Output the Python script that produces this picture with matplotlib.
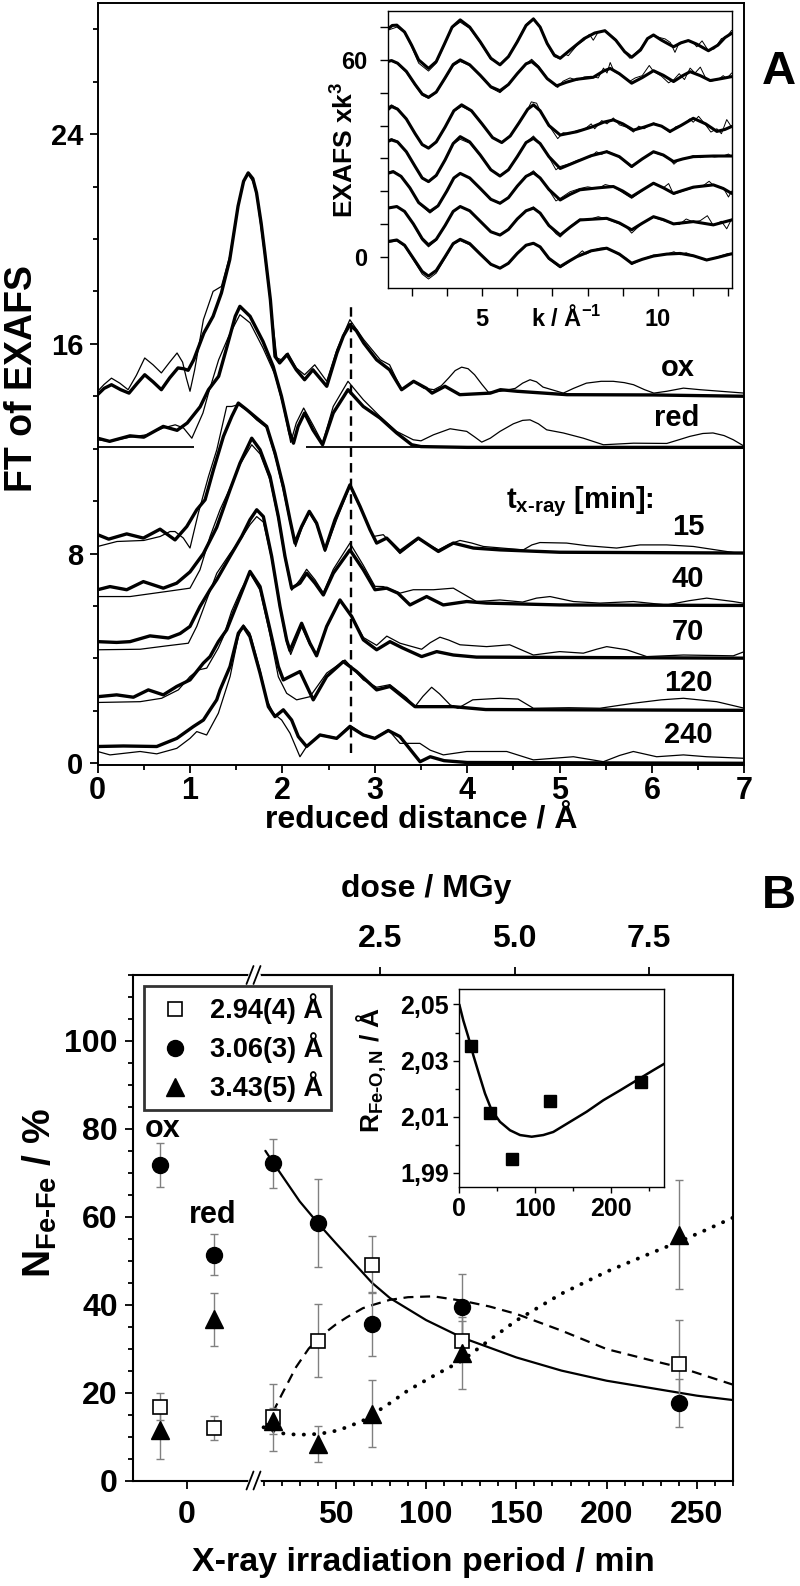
import numpy as np
import matplotlib
matplotlib.use("Agg")
import matplotlib.pyplot as plt
from matplotlib.lines import Line2D
from matplotlib.ticker import MultipleLocator, FixedLocator, FixedFormatter, NullLocator

plt.rcParams['font.family'] = ['Liberation Sans', 'DejaVu Sans']
plt.rcParams['font.weight'] = 'bold'
plt.rcParams['mathtext.fontset'] = 'custom'
plt.rcParams['mathtext.rm'] = 'Liberation Sans:bold'
plt.rcParams['mathtext.it'] = 'Liberation Sans:bold'
plt.rcParams['mathtext.bf'] = 'Liberation Sans:bold'
plt.rcParams['mathtext.sf'] = 'Liberation Sans:bold'
plt.rcParams['mathtext.default'] = 'rm'
plt.rcParams['lines.solid_joinstyle'] = 'round'
plt.rcParams['lines.solid_capstyle'] = 'round'

# ======================= DATA =======================
# Panel A: FT of EXAFS, (reduced distance / A, offset amplitude); thick = simulation, thin = experiment
ox_sim = [[0, 14.06], [0.07, 14.3], [0.15, 14.44], [0.25, 14.25], [0.34, 14.12], [0.43, 14.5], [0.51, 14.82],
          [0.6, 14.55], [0.69, 14.25], [0.78, 14.7], [0.87, 15.08], [0.93, 15.05], [0.98, 14.99],
          [1.04, 15.39], [1.15, 16.41], [1.25, 17.05], [1.34, 17.94], [1.43, 19.21], [1.52, 21.25], [1.58, 22.2],
          [1.63, 22.52], [1.68, 22.3], [1.72, 21.76], [1.77, 20.6], [1.81, 19.47], [1.87, 17.68], [1.92, 15.52],
          [1.97, 15.27], [2.05, 15.59], [2.15, 15.01], [2.24, 14.63], [2.33, 15.01], [2.48, 14.38], [2.59, 15.65],
          [2.66, 16.3], [2.73, 16.73], [2.8, 16.5], [2.88, 16.03], [3.02, 15.39], [3.16, 15.01], [3.29, 14.25],
          [3.42, 14.57], [3.56, 14.3], [3.62, 14.12], [3.76, 14.38], [3.92, 14.06], [4.25, 14.12], [4.36, 14.25],
          [4.54, 14.19], [5.08, 14.06], [6.0, 14.05], [7.0, 14.0]]
ox_exp = [[0, 14.19], [0.07, 14.45], [0.15, 14.69], [0.24, 14.5], [0.33, 14.25], [0.42, 14.8], [0.51, 15.46],
          [0.6, 15.2], [0.69, 14.89], [0.78, 15.3], [0.86, 15.65], [0.92, 15.3], [0.96, 14.7], [1.0, 14.19],
          [1.05, 15.0], [1.145, 16.92], [1.25, 18.0], [1.34, 18.19], [1.43, 19.34], [1.52, 21.25],
          [1.58, 22.2], [1.63, 22.46], [1.68, 22.2], [1.72, 21.7], [1.81, 19.34], [1.88, 17.3], [1.94, 15.46],
          [1.99, 15.39], [2.06, 15.65], [2.15, 15.08], [2.24, 14.82], [2.35, 15.2], [2.48, 14.57], [2.59, 15.78],
          [2.73, 16.92], [2.88, 16.16], [3.06, 15.39], [3.16, 15.2], [3.29, 14.25], [3.42, 14.57], [3.53, 14.31],
          [3.64, 14.25], [3.72, 14.4], [3.8, 14.7], [3.87, 14.98], [3.94, 15.11], [4.01, 15.05], [4.08, 14.82],
          [4.16, 14.45], [4.23, 14.15], [4.36, 14.19], [4.52, 14.3], [4.6, 14.5], [4.68, 14.63], [4.75, 14.55],
          [4.82, 14.35], [5.04, 14.12], [5.15, 14.3], [5.29, 14.5], [5.45, 14.57], [5.58, 14.57], [5.7, 14.52],
          [5.8, 14.44], [5.92, 14.25], [6.02, 14.12], [6.16, 14.19], [6.34, 14.31], [6.52, 14.25], [7.0, 14.12]]
red_sim = [[0, 12.4], [0.13, 12.28], [0.35, 12.49], [0.5, 12.44], [0.71, 12.85], [0.86, 12.7], [0.97, 12.98],
           [1.11, 13.6], [1.2, 14.25], [1.31, 14.76], [1.4, 15.89], [1.49, 17.05], [1.54, 17.43], [1.65, 17.05],
           [1.79, 16.09], [1.9, 15.14], [1.99, 14.0], [2.08, 12.6], [2.12, 12.21], [2.17, 12.85], [2.24, 13.36],
           [2.33, 12.72], [2.435, 12.15], [2.55, 13.36], [2.71, 14.25], [2.875, 13.61], [3.056, 13.17],
           [3.236, 12.6], [3.4, 12.15], [3.5, 12.08], [4.0, 12.05], [7.0, 12.05]]
red_exp = [[0, 12.34], [0.13, 12.28], [0.35, 12.44], [0.53, 12.53], [0.71, 12.79], [0.84, 12.91], [0.93, 12.79],
           [1.02, 12.4], [1.14, 13.36], [1.2, 14.12], [1.31, 15.39], [1.42, 16.3], [1.54, 17.11], [1.65, 16.8],
           [1.79, 15.84], [1.92, 14.82], [2.01, 13.61], [2.09, 12.24], [2.15, 12.98], [2.23, 13.55], [2.33, 12.91],
           [2.435, 12.21], [2.55, 13.61], [2.71, 14.57], [2.875, 13.87], [3.056, 13.23], [3.236, 12.66],
           [3.416, 12.34], [3.5, 12.3], [3.635, 12.53], [3.815, 12.76], [3.995, 12.66], [4.08, 12.45],
           [4.157, 12.25], [4.25, 12.4], [4.355, 12.66], [4.5, 12.95], [4.6, 13.08], [4.68, 13.1], [4.77, 12.95],
           [4.86, 12.72], [5.04, 12.6], [5.257, 12.4], [5.474, 12.15], [5.8, 12.21], [6.16, 12.2], [6.3, 12.35],
           [6.41, 12.47], [6.55, 12.58], [6.66, 12.6], [6.78, 12.5], [6.88, 12.34], [7.0, 12.09]]
t15_sim = [[0, 8.72], [0.12, 8.55], [0.315, 8.75], [0.495, 8.59], [0.676, 8.93], [0.838, 8.52], [0.965, 9.03],
           [1.073, 9.67], [1.163, 10.05], [1.254, 11.2], [1.362, 12.47], [1.452, 13.23], [1.523, 13.74],
           [1.613, 13.49], [1.721, 13.17], [1.83, 12.85], [1.92, 11.83], [2.01, 10.56], [2.082, 9.29], [2.136, 8.4],
           [2.208, 9.03], [2.291, 9.61], [2.37, 9.16], [2.461, 8.14], [2.569, 9.29], [2.731, 10.62], [2.84, 9.8],
           [2.948, 8.91], [3.02, 8.4], [3.128, 8.59], [3.272, 8.08], [3.471, 8.59], [3.688, 8.08], [3.85, 8.4],
           [4.067, 8.21], [4.355, 8.14], [5.0, 8.05], [7.0, 8.02]]
t15_exp = [[0, 8.27], [0.21, 8.46], [0.5, 8.5], [0.676, 8.65], [0.784, 8.84], [0.838, 8.84], [0.928, 8.59],
           [1.0, 8.21], [1.09, 9.54], [1.2, 10.94], [1.29, 11.96], [1.397, 13.61], [1.452, 13.61], [1.523, 13.68],
           [1.62, 13.45], [1.72, 13.1], [1.83, 12.8], [1.931, 11.58], [2.01, 10.4], [2.082, 9.2], [2.143, 8.27],
           [2.208, 8.95], [2.291, 9.55], [2.37, 9.1], [2.461, 8.08], [2.587, 9.29], [2.731, 10.56], [2.84, 9.75],
           [2.984, 8.65], [3.092, 8.72], [3.272, 8.0], [3.471, 8.55], [3.688, 8.14], [3.8, 8.35], [3.922, 8.5],
           [4.05, 8.4], [4.175, 8.27], [4.607, 8.14], [4.7, 8.33], [4.787, 8.42], [5.076, 8.4], [5.293, 8.3],
           [5.617, 8.21], [5.87, 8.33], [6.159, 8.33], [6.448, 8.27], [6.88, 8.04], [7.0, 8.0]]
t40_sim = [[0, 6.62], [0.134, 6.74], [0.315, 6.62], [0.495, 6.93], [0.711, 6.68], [0.856, 6.87], [1.0, 7.3],
           [1.145, 8.0], [1.289, 9.0], [1.433, 10.43], [1.541, 11.45], [1.668, 12.4], [1.758, 11.96],
           [1.866, 10.94], [1.956, 9.41], [2.028, 7.89], [2.1, 6.68], [2.19, 6.87], [2.262, 7.25], [2.353, 6.87],
           [2.443, 6.42], [2.551, 7.25], [2.731, 8.14], [2.876, 7.38], [3.002, 6.62], [3.128, 6.68], [3.25, 6.49],
           [3.381, 6.04], [3.561, 6.36], [3.741, 6.04], [3.995, 6.17], [4.21, 6.11], [5.0, 6.04], [7.0, 6.02]]
t40_exp = [[0, 6.36], [0.351, 6.36], [0.74, 6.55], [1.0, 6.68], [1.108, 7.38], [1.217, 8.65], [1.325, 9.67],
           [1.433, 10.5], [1.541, 11.4], [1.668, 12.15], [1.758, 11.8], [1.866, 10.8], [1.956, 9.3], [2.028, 7.8],
           [2.1, 6.6], [2.19, 7.0], [2.262, 7.4], [2.353, 7.0], [2.443, 6.5], [2.551, 7.4], [2.731, 8.4],
           [2.876, 7.55], [3.002, 6.75], [3.092, 6.74], [3.273, 6.49], [3.416, 6.62], [3.635, 6.62], [3.85, 6.68],
           [4.1, 6.17], [4.355, 6.23], [4.6, 6.15], [4.75, 6.3], [4.896, 6.36], [5.149, 6.17], [5.437, 6.11],
           [5.798, 6.17], [6.159, 6.04], [6.4, 6.2], [6.592, 6.3], [6.88, 6.17], [7.0, 6.1]]
t70_sim = [[0, 4.64], [0.206, 4.61], [0.351, 4.64], [0.567, 4.86], [0.766, 4.78], [0.893, 4.95], [1.0, 5.22],
           [1.108, 5.98], [1.217, 6.62], [1.289, 7.0], [1.433, 7.89], [1.559, 8.65], [1.649, 9.29], [1.722, 9.67],
           [1.794, 9.41], [1.884, 7.89], [1.974, 5.98], [2.046, 4.71], [2.082, 4.3], [2.208, 5.34], [2.298, 4.58],
           [2.37, 4.1], [2.479, 5.22], [2.623, 6.23], [2.75, 5.6], [2.876, 4.71], [3.02, 4.33], [3.164, 4.64],
           [3.3, 4.4], [3.507, 4.07], [3.67, 4.26], [3.85, 4.13], [4.1, 4.05], [7.0, 4.01]]
t70_exp = [[0, 4.33], [0.46, 4.35], [0.748, 4.48], [0.982, 4.58], [1.073, 5.22], [1.18, 6.23], [1.29, 7.25],
           [1.433, 8.0], [1.559, 8.6], [1.649, 9.1], [1.722, 9.41], [1.794, 9.2], [1.884, 7.8], [1.974, 5.9],
           [2.046, 4.6], [2.09, 4.15], [2.208, 5.2], [2.298, 4.5], [2.37, 4.2], [2.479, 5.2], [2.623, 6.2],
           [2.75, 5.6], [2.876, 4.8], [3.02, 4.5], [3.13, 4.85], [3.273, 4.58], [3.507, 4.35], [3.6, 4.6],
           [3.705, 4.81], [3.8, 4.7], [3.922, 4.52], [4.21, 4.45], [4.46, 4.52], [4.716, 4.13], [5.0, 4.26],
           [5.257, 4.2], [5.4, 4.35], [5.51, 4.45], [5.726, 4.33], [5.943, 4.07], [6.34, 4.13], [6.88, 4.1],
           [7.0, 4.26]]
t120_sim = [[0, 2.54], [0.206, 2.61], [0.387, 2.52], [0.549, 2.8], [0.711, 2.61], [0.856, 2.93], [1.0, 3.18],
            [1.144, 3.82], [1.217, 4.07], [1.307, 4.64], [1.397, 5.09], [1.541, 6.36], [1.649, 7.32],
            [1.758, 6.74], [1.866, 5.09], [1.956, 3.69], [2.01, 3.18], [2.082, 3.31], [2.19, 3.5], [2.334, 2.42],
            [2.479, 3.31], [2.659, 3.88], [2.803, 3.5], [3.02, 2.8], [3.164, 2.93], [3.344, 2.42], [3.435, 2.16],
            [3.85, 2.16], [4.2, 2.05], [7.0, 2.02]]
t120_exp = [[0, 2.32], [0.46, 2.35], [0.693, 2.48], [0.874, 2.8], [1.0, 3.31], [1.09, 3.56], [1.181, 3.63],
            [1.307, 4.4], [1.361, 4.83], [1.45, 5.8], [1.55, 6.6], [1.649, 7.25], [1.758, 6.6], [1.866, 4.9],
            [1.956, 3.3], [2.046, 2.67], [2.154, 2.42], [2.298, 2.54], [2.479, 3.44], [2.677, 3.94], [2.876, 3.18],
            [3.02, 2.9], [3.164, 3.0], [3.344, 2.5], [3.435, 2.16], [3.52, 2.55], [3.615, 2.9], [3.7, 2.65],
            [3.815, 2.23], [3.9, 2.1], [4.06, 2.42], [4.355, 2.48], [4.55, 2.45], [4.716, 2.1], [5.1, 2.12],
            [5.437, 2.1], [5.798, 2.29], [6.1, 2.42], [6.34, 2.48], [6.7, 2.35], [7.0, 2.1]]
t240_sim = [[0, 0.64], [0.279, 0.66], [0.64, 0.64], [0.857, 0.95], [1.036, 1.4], [1.145, 1.65], [1.217, 2.04],
            [1.289, 2.42], [1.325, 2.8], [1.433, 3.69], [1.523, 4.96], [1.577, 5.22], [1.649, 4.83],
            [1.758, 3.44], [1.848, 2.16], [1.92, 1.78], [2.01, 2.04], [2.1, 1.65], [2.172, 1.02], [2.262, 0.64],
            [2.407, 1.08], [2.587, 0.95], [2.731, 1.4], [2.876, 1.08], [3.0, 0.95], [3.146, 1.25], [3.272, 1.02],
            [3.417, 0.38], [3.49, 0.06], [3.6, 0.25], [3.75, 0.1], [4.0, 0.03], [7.0, 0.0]]
t240_exp = [[0, 0.45], [0.134, 0.32], [0.46, 0.45], [0.64, 0.36], [0.857, 0.57], [1.0, 0.95], [1.073, 1.21],
            [1.18, 1.08], [1.307, 1.91], [1.434, 3.31], [1.523, 4.83], [1.577, 5.28], [1.649, 4.96],
            [1.758, 3.56], [1.83, 2.42], [1.902, 1.91], [1.992, 1.65], [2.082, 1.15], [2.19, 0.25], [2.262, 0.64],
            [2.407, 1.1], [2.587, 0.97], [2.731, 1.45], [2.876, 1.1], [3.0, 0.97], [3.146, 1.28], [3.273, 0.76],
            [3.488, 0.76], [3.6, 0.5], [3.742, 0.32], [3.995, 0.45], [4.428, 0.45], [4.716, 0.13], [5.149, 0.25],
            [5.474, 0.06], [5.65, 0.3], [5.798, 0.45], [6.05, 0.25], [6.34, 0.32], [6.59, 0.25], [7.0, 0.19]]
ft_names = ['ox', 'red', '15', '40', '70', '120', '240']
red_baseline_level = 12.05
red_baseline_segments = [[0.0, 1.04], [2.26, 7.0]]
fefe_distance = 2.74
fefe_line_span = [0.4, 17.5]

# Inset A: k^3-weighted EXAFS (k / A^-1, offset value); thick = simulation, thin = experiment
ex_ox_sim = [[2.31, 69.3], [2.45, 70.5], [2.58, 70.6], [2.8, 68.5], [3.0, 64.5], [3.2, 60.0], [3.48, 57.4],
             [3.7, 59.5], [3.93, 64.8], [4.15, 70.0], [4.38, 72.2], [4.65, 70.0], [4.95, 65.5], [5.25, 60.5],
             [5.51, 58.5], [5.75, 61.0], [6.0, 65.5], [6.25, 70.5], [6.46, 72.5], [6.65, 70.0], [6.85, 65.0],
             [7.05, 61.5], [7.22, 60.5], [7.5, 63.0], [7.9, 66.5], [8.2, 68.2], [8.49, 68.9], [8.8, 66.0],
             [9.05, 62.5], [9.25, 60.8], [9.5, 63.0], [9.7, 66.5], [9.87, 67.6], [10.1, 66.0], [10.44, 64.0],
             [10.65, 65.2], [10.86, 65.9], [11.1, 64.8], [11.43, 62.8], [11.7, 64.5], [11.9, 66.8], [12.09, 68.1]]
ex_ox_exp = [[2.31, 69.0], [2.58, 70.0], [2.8, 68.3], [3.0, 64.0], [3.2, 59.0], [3.48, 56.6], [3.7, 59.0],
             [3.93, 64.5], [4.15, 69.8], [4.38, 71.5], [4.65, 69.6], [4.95, 65.2], [5.25, 60.2], [5.51, 58.7],
             [5.75, 61.2], [6.0, 65.8], [6.25, 70.8], [6.46, 72.7], [6.65, 70.2], [6.85, 64.8], [7.05, 61.0],
             [7.22, 60.3], [7.35, 61.8], [7.45, 61.3], [7.7, 64.5], [7.9, 66.0], [8.05, 67.8], [8.16, 66.0],
             [8.3, 68.5], [8.49, 69.0], [8.8, 66.2], [9.05, 62.3], [9.2, 60.5], [9.3, 61.5], [9.5, 63.5],
             [9.7, 66.5], [9.87, 67.4], [10.05, 66.8], [10.2, 66.4], [10.35, 65.3], [10.48, 62.3], [10.6, 65.2],
             [10.86, 66.0], [11.0, 65.2], [11.1, 64.0], [11.25, 65.8], [11.43, 62.8], [11.6, 63.4], [11.8, 66.5],
             [11.95, 67.0], [12.09, 69.0]]
ex_red_sim = [[2.31, 59.5], [2.43, 59.8], [2.6, 59.0], [2.85, 56.5], [3.1, 52.5], [3.3, 49.6], [3.48, 48.6],
              [3.7, 50.2], [3.95, 54.5], [4.18, 58.6], [4.38, 60.0], [4.65, 58.5], [4.95, 55.3], [5.25, 51.8],
              [5.51, 50.6], [5.75, 52.5], [6.0, 55.8], [6.25, 58.8], [6.41, 59.5], [6.6, 57.8], [6.85, 54.3],
              [7.12, 52.1], [7.4, 53.2], [7.69, 54.1], [8.16, 54.7], [8.45, 56.6], [8.64, 57.4], [8.9, 55.8],
              [9.25, 52.9], [9.55, 54.6], [9.87, 56.7], [10.15, 55.3], [10.44, 53.4], [10.7, 55.2], [10.91, 56.4],
              [11.2, 55.2], [11.48, 53.7], [11.8, 54.3], [12.09, 54.9]]
ex_red_exp = [[2.31, 59.3], [2.43, 59.6], [2.6, 58.8], [2.85, 56.2], [3.1, 52.2], [3.3, 49.2], [3.48, 48.3],
              [3.7, 50.0], [3.95, 54.2], [4.18, 58.2], [4.38, 59.5], [4.65, 58.3], [4.95, 55.3], [5.25, 51.5],
              [5.51, 50.0], [5.75, 52.3], [6.0, 55.8], [6.25, 58.8], [6.41, 60.2], [6.6, 58.2], [6.85, 54.5],
              [7.05, 52.5], [7.15, 51.6], [7.3, 53.5], [7.5, 54.5], [7.7, 53.8], [7.9, 54.8], [8.1, 55.0],
              [8.3, 54.5], [8.45, 57.5], [8.55, 56.0], [8.64, 59.2], [8.75, 56.5], [9.0, 55.0], [9.2, 53.5],
              [9.35, 54.5], [9.55, 55.2], [9.75, 58.3], [9.87, 56.5], [10.1, 55.0], [10.3, 53.0], [10.45, 54.0],
              [10.6, 55.8], [10.75, 54.0], [10.91, 57.5], [11.05, 56.0], [11.2, 57.8], [11.35, 54.5], [11.5, 53.5],
              [11.7, 54.0], [11.85, 55.2], [11.95, 54.3], [12.09, 56.0]]
ex_15_sim = [[2.31, 44.7], [2.43, 45.8], [2.6, 45.0], [2.85, 42.0], [3.1, 37.5], [3.3, 34.2], [3.48, 33.1],
             [3.7, 35.0], [3.95, 39.5], [4.2, 44.5], [4.42, 46.3], [4.7, 44.5], [5.0, 40.5], [5.3, 36.3],
             [5.56, 34.8], [5.8, 36.8], [6.05, 40.8], [6.3, 45.0], [6.46, 46.3], [6.65, 44.5], [6.9, 40.0],
             [7.22, 37.1], [7.69, 38.1], [8.16, 39.7], [8.45, 41.0], [8.73, 41.7], [9.0, 40.5], [9.3, 38.6],
             [9.6, 39.5], [9.87, 40.5], [10.1, 39.8], [10.34, 38.2], [10.65, 40.0], [11.0, 42.2], [11.35, 40.5],
             [11.67, 38.2], [11.9, 38.8], [12.09, 39.7]]
ex_15_exp = [[2.31, 45.5], [2.43, 46.3], [2.6, 45.2], [2.85, 42.0], [3.1, 37.3], [3.3, 34.0], [3.48, 33.0],
             [3.7, 34.8], [3.95, 39.3], [4.2, 44.3], [4.42, 45.8], [4.7, 44.3], [5.0, 40.3], [5.3, 36.3],
             [5.56, 35.0], [5.8, 36.8], [6.05, 40.8], [6.3, 45.0], [6.4, 47.2], [6.55, 46.8], [6.65, 44.5],
             [6.9, 40.0], [7.15, 36.0], [7.3, 37.8], [7.5, 37.5], [7.7, 38.5], [7.9, 38.8], [8.1, 40.5], [8.2, 39.0],
             [8.4, 41.5], [8.55, 40.5], [8.73, 42.3], [8.9, 40.2], [9.1, 39.5], [9.3, 38.0], [9.45, 39.8],
             [9.6, 39.0], [9.87, 40.8], [10.1, 39.8], [10.34, 37.8], [10.5, 39.6], [10.7, 40.2], [10.9, 42.0],
             [11.0, 41.0], [11.15, 42.8], [11.35, 40.2], [11.5, 38.0], [11.67, 39.0], [11.8, 37.5], [11.95, 41.8],
             [12.09, 39.5]]
ex_40_sim = [[2.31, 35.1], [2.43, 35.6], [2.6, 35.0], [2.85, 32.0], [3.1, 27.5], [3.3, 24.0], [3.48, 22.9],
             [3.7, 24.8], [3.95, 29.5], [4.18, 34.5], [4.38, 36.6], [4.65, 35.0], [4.95, 31.0], [5.25, 26.5],
             [5.51, 24.6], [5.75, 26.5], [6.0, 30.5], [6.25, 34.8], [6.46, 36.1], [6.65, 34.5], [6.9, 30.5],
             [7.22, 26.9], [7.69, 29.0], [8.1, 30.8], [8.54, 32.0], [8.9, 30.5], [9.25, 27.5], [9.55, 29.8],
             [9.87, 32.0], [10.15, 31.0], [10.44, 29.0], [10.7, 29.8], [11.0, 30.5], [11.57, 30.7], [12.09, 30.7]]
ex_40_exp = [[2.31, 35.5], [2.43, 36.0], [2.6, 35.2], [2.85, 32.0], [3.1, 27.3], [3.3, 23.8], [3.48, 22.7],
             [3.7, 24.6], [3.95, 29.3], [4.18, 34.3], [4.38, 35.8], [4.65, 34.6], [4.95, 30.8], [5.25, 26.4],
             [5.51, 24.8], [5.75, 26.6], [6.0, 30.5], [6.25, 34.8], [6.46, 36.8], [6.65, 34.5], [6.9, 30.3],
             [7.1, 26.5], [7.22, 27.5], [7.5, 28.4], [7.69, 29.3], [7.9, 30.0], [8.1, 30.5], [8.25, 32.0],
             [8.4, 31.2], [8.54, 32.3], [8.8, 31.0], [9.0, 29.5], [9.25, 27.2], [9.5, 29.5], [9.87, 31.8],
             [10.15, 30.8], [10.35, 29.5], [10.45, 28.2], [10.6, 29.6], [10.8, 30.0], [11.0, 30.8], [11.2, 30.2],
             [11.4, 30.8], [11.6, 30.4], [11.85, 30.7], [12.0, 31.3], [12.09, 30.5]]
ex_70_sim = [[2.31, 25.4], [2.48, 25.9], [2.7, 24.5], [2.95, 21.0], [3.2, 16.5], [3.52, 13.8], [3.75, 15.5],
             [4.0, 20.0], [4.2, 24.0], [4.38, 25.4], [4.65, 24.0], [4.95, 20.8], [5.25, 17.5], [5.51, 16.3],
             [5.75, 18.0], [6.0, 21.5], [6.25, 24.5], [6.46, 25.6], [6.65, 24.0], [6.9, 20.5], [7.22, 17.3],
             [7.5, 19.0], [7.78, 20.4], [8.3, 21.0], [8.73, 21.4], [9.0, 20.0], [9.25, 18.3], [9.55, 20.3],
             [9.87, 22.4], [10.15, 21.0], [10.44, 19.3], [10.7, 20.2], [11.0, 21.2], [11.57, 21.9], [11.85, 20.8],
             [12.09, 19.3]]
ex_70_exp = [[2.31, 25.8], [2.48, 26.2], [2.7, 24.6], [2.95, 21.0], [3.2, 16.3], [3.52, 13.3], [3.75, 15.3],
             [4.0, 19.9], [4.2, 23.8], [4.38, 25.4], [4.65, 24.0], [4.95, 20.8], [5.25, 17.4], [5.51, 16.1],
             [5.75, 18.0], [6.0, 21.5], [6.25, 24.5], [6.46, 26.2], [6.65, 24.0], [6.9, 20.3], [7.1, 17.0],
             [7.25, 18.0], [7.5, 19.8], [7.78, 20.8], [8.0, 21.3], [8.3, 20.8], [8.5, 22.0], [8.73, 21.4],
             [9.0, 19.5], [9.25, 17.8], [9.55, 20.1], [9.87, 22.6], [10.15, 21.0], [10.3, 22.3], [10.44, 19.0],
             [10.7, 20.0], [11.0, 21.0], [11.3, 21.8], [11.45, 23.0], [11.57, 21.8], [11.85, 21.0], [12.0, 18.2],
             [12.09, 20.0]]
ex_120_sim = [[2.31, 14.8], [2.58, 15.3], [2.8, 13.8], [3.05, 10.0], [3.3, 5.5], [3.48, 3.6], [3.7, 5.3],
              [3.95, 9.5], [4.18, 13.8], [4.38, 15.3], [4.65, 14.0], [4.95, 10.8], [5.25, 7.6], [5.51, 6.6],
              [5.75, 8.3], [6.0, 11.5], [6.25, 14.0], [6.46, 14.8], [6.65, 13.3], [6.9, 9.5], [7.22, 6.6],
              [7.5, 9.0], [7.78, 11.2], [8.54, 11.7], [8.9, 10.3], [9.25, 8.2], [9.55, 10.2], [9.87, 12.2],
              [10.15, 11.3], [10.44, 10.0], [11.0, 10.7], [11.57, 9.7], [12.09, 11.2]]
ex_120_exp = [[2.31, 14.9], [2.58, 15.4], [2.8, 13.8], [3.05, 9.8], [3.3, 5.0], [3.48, 3.0], [3.7, 5.0],
              [3.95, 9.3], [4.18, 13.7], [4.38, 15.2], [4.65, 14.0], [4.95, 10.8], [5.25, 7.5], [5.51, 6.5],
              [5.75, 8.3], [6.0, 11.5], [6.25, 14.0], [6.46, 15.2], [6.65, 13.3], [6.9, 9.5], [7.1, 7.0],
              [7.22, 6.0], [7.5, 9.2], [7.78, 11.5], [8.0, 11.2], [8.3, 12.2], [8.54, 11.5], [8.9, 10.0],
              [9.1, 9.0], [9.25, 7.2], [9.55, 10.2], [9.87, 12.0], [10.15, 11.0], [10.44, 10.0], [10.6, 9.8],
              [10.8, 11.5], [11.0, 10.6], [11.2, 11.0], [11.4, 12.5], [11.57, 9.5], [11.8, 10.8], [11.95, 8.5],
              [12.09, 11.5]]
ex_240_sim = [[2.31, 4.6], [2.58, 5.1], [2.8, 3.5], [3.05, -0.5], [3.3, -4.5], [3.48, -5.9], [3.7, -4.2],
              [3.95, 0.0], [4.18, 4.0], [4.38, 5.3], [4.65, 4.0], [4.95, 0.8], [5.25, -2.3], [5.51, -3.5],
              [5.75, -2.0], [6.0, 1.0], [6.25, 3.5], [6.46, 4.1], [6.65, 3.0], [6.9, -0.5], [7.22, -3.0],
              [7.45, -1.5], [7.69, 0.0], [8.1, 1.8], [8.54, 2.6], [8.9, 0.8], [9.25, -2.0], [9.55, -0.8],
              [9.87, 0.2], [10.25, 0.8], [10.63, 1.0], [11.0, 0.3], [11.38, -1.0], [11.7, -0.2], [12.09, 0.9]]
ex_240_exp = [[2.31, 4.3], [2.58, 4.8], [2.8, 3.2], [3.05, -1.0], [3.3, -5.3], [3.48, -6.8], [3.7, -5.0],
              [3.95, -0.5], [4.18, 3.7], [4.38, 4.9], [4.65, 3.6], [4.95, 0.5], [5.25, -2.5], [5.51, -3.6],
              [5.75, -2.2], [6.0, 0.8], [6.25, 3.3], [6.46, 4.0], [6.65, 2.8], [6.9, -0.8], [7.22, -3.4],
              [7.45, -1.8], [7.69, 0.3], [7.85, 1.8], [7.95, 0.8], [8.1, 1.6], [8.3, 2.5], [8.54, 2.8], [8.9, 0.5],
              [9.1, -0.5], [9.25, -2.4], [9.55, -0.8], [9.87, 0.5], [10.25, 0.8], [10.45, 1.5], [10.63, 0.6],
              [10.8, 1.2], [11.0, 0.3], [11.38, -1.2], [11.7, 0.0], [12.0, 1.0], [12.09, 0.6]]

# Panel B: Fe-Fe coordination numbers (%) vs irradiation time (min)
ref_states = ['ox', 'red']
ref_x = [-15, 15]                      # plotted positions of the ox / red reference samples
ref_sq = [16.8, 11.9]
ref_sq_err = [3.0, 2.8]
ref_circ = [71.8, 51.4]
ref_circ_err = [5.0, 4.6]
ref_tri = [11.4, 36.7]
ref_tri_err = [6.5, 6.0]

t_irr = [15, 40, 70, 120, 240]
n_sq = [14.4, 31.8, 49.1, 31.7, 26.5]
n_sq_err = [7.6, 8.3, 6.5, 4.5, 10.0]
n_circ = [72.2, 58.6, 35.6, 39.5, 17.6]
n_circ_err = [5.6, 10.0, 7.3, 7.5, 5.5]
n_tri = [13.6, 8.3, 15.2, 29.0, 55.9]
n_tri_err = [3.0, 4.2, 7.6, 8.2, 12.4]

fit_circ_t = [11, 15, 20, 30, 40, 50, 60, 70, 80, 100, 120, 150, 175, 200, 225, 250, 270]
fit_circ_v = [75, 72.5, 69.5, 63.5, 58.6, 54, 49.5, 45, 41.5, 36.5, 32.5, 28, 25, 22.7, 21, 19.3, 18.3]
fit_sq_t = [11, 20, 28, 35, 41, 50, 56, 65, 71, 80, 90, 104, 120, 135, 150, 175, 200, 225, 240, 255, 270]
fit_sq_v = [12.1, 19.5, 25.8, 30.0, 32.6, 35.5, 37.1, 39.2, 40.0, 41.1, 41.7, 41.9, 40.9, 39.6, 37.9, 34.1,
            29.9, 27.3, 25.8, 23.8, 21.8]
fit_tri_t = [10, 16, 22, 30, 41, 50, 56, 65, 71, 80, 90, 105, 120, 132, 150, 175, 200, 225, 240, 255, 270]
fit_tri_v = [12.1, 11.2, 10.6, 10.4, 10.6, 11.3, 12.1, 13.6, 15.2, 17.6, 20.5, 24.0, 27.3, 31.0, 36.4, 42.5,
             47.5, 51.8, 54.3, 57.0, 59.8]
legend_labels = ['2.94(4) Å', '3.06(3) Å', '3.43(5) Å']
dose_per_min = 2.5 / 74.5              # MGy per minute of irradiation
dose_ticks = [2.5, 5.0, 7.5]

# Inset B: Fe-O,N distance vs irradiation time
rfe_t = [15, 40, 70, 120, 240]
rfe_val = [2.0352, 2.0112, 1.9949, 2.0157, 2.0223]
rfe_fit_t = [0, 5.3, 11.9, 18.5, 25.1, 33.9, 42.7, 53.7, 66.9, 80.1, 95.5, 110.8, 124, 146, 168, 190, 212,
             234, 256, 270.5]
rfe_fit_v = [2.05, 2.0443, 2.0384, 2.0319, 2.026, 2.0183, 2.0123, 2.0082, 2.0052, 2.0035, 2.0029, 2.0035,
             2.0046, 2.0082, 2.0118, 2.0159, 2.0194, 2.023, 2.0266, 2.0289]
rfe_ticks = [1.99, 2.01, 2.03, 2.05]
rfe_ticklabels = ['1,99', '2,01', '2,03', '2,05']

# ======================= FIGURE =======================
W, H = 800, 1586
fig = plt.figure(figsize=(W / 100, H / 100), dpi=100)


def fx(px):
    return px / W


def fy(py):
    return 1 - py / H


def box(l, t, r, b):
    return [fx(l), fy(b), (r - l) / W, (b - t) / H]


# ---------------- Panel A ----------------
axA = fig.add_axes(box(97.6, 3, 744.4, 764.6))
sims = [ox_sim, red_sim, t15_sim, t40_sim, t70_sim, t120_sim, t240_sim]
exps = [ox_exp, red_exp, t15_exp, t40_exp, t70_exp, t120_exp, t240_exp]
for s, e in zip(sims, exps):
    s = np.array(s); e = np.array(e)
    axA.plot(e[:, 0], e[:, 1], color='k', lw=0.9, zorder=3)
    axA.plot(s[:, 0], s[:, 1], color='k', lw=2.4, zorder=2)
for seg in red_baseline_segments:
    axA.plot(seg, [red_baseline_level] * 2, color='k', lw=1.3, solid_capstyle='butt')
axA.plot([fefe_distance] * 2, fefe_line_span, color='k', lw=1.7, ls=(0, (4, 2.6)), zorder=4)
axA.set_xlim(0, 7)
axA.set_ylim(-0.05, 29.0)
axA.xaxis.set_major_locator(MultipleLocator(1))
axA.xaxis.set_minor_locator(MultipleLocator(0.5))
axA.yaxis.set_major_locator(FixedLocator([0, 8, 16, 24]))
axA.yaxis.set_minor_locator(MultipleLocator(2))
axA.tick_params(which='both', direction='out', width=1.3, top=False, right=False)
axA.tick_params(which='major', length=5.5)
axA.tick_params(which='minor', length=3.5)
axA.tick_params(axis='x', labelsize=22, pad=3)
axA.tick_params(axis='y', labelsize=21, pad=5)
for sp in axA.spines.values():
    sp.set_linewidth(1.4)

lab_kw = dict(fontsize=21, fontweight='bold', ha='center', va='center')
axA.text(6.28, 15.08, 'ox', **lab_kw)
axA.text(6.27, 13.17, 'red', **lab_kw)
axA.text(5.22, 9.97, r't$_{x‐ray}$ [min]:', **lab_kw)
for name, yv in zip(['15', '40', '70', '120', '240'], [9.02, 7.03, 5.01, 3.06, 1.08]):
    axA.text(6.39, yv, name, **lab_kw)

fig.text(fx(22), fy(379), 'FT of EXAFS', rotation=90, fontsize=27, fontweight='bold', ha='center', va='center')
fig.text(fx(421), fy(820), 'reduced distance / Å', fontsize=23, fontweight='bold', ha='center', va='center')
fig.text(fx(779), fy(72), 'A', fontsize=34, fontweight='bold', ha='center', va='center')

# ---------------- Inset A ----------------
axI = fig.add_axes(box(387.5, 10.7, 732, 288))
ex_sims = [ex_ox_sim, ex_red_sim, ex_15_sim, ex_40_sim, ex_70_sim, ex_120_sim, ex_240_sim]
ex_exps = [ex_ox_exp, ex_red_exp, ex_15_exp, ex_40_exp, ex_70_exp, ex_120_exp, ex_240_exp]
for s, e in zip(ex_sims, ex_exps):
    s = np.array(s); e = np.array(e)
    axI.plot(e[:, 0], e[:, 1], color='k', lw=0.7, zorder=3)
    axI.plot(s[:, 0], s[:, 1], color='k', lw=2.2, zorder=2)
axI.set_xlim(2.315, 12.1)
axI.set_ylim(-9.54, 75.0)
axI.xaxis.set_major_locator(FixedLocator([5, 10]))
axI.xaxis.set_minor_locator(MultipleLocator(1))
axI.yaxis.set_major_locator(FixedLocator([0, 60]))
axI.yaxis.set_minor_locator(MultipleLocator(10))
axI.tick_params(which='both', direction='out', width=1.0, labelsize=17, top=False, right=False)
axI.tick_params(which='major', length=5.8, pad=8.5)
axI.tick_params(which='minor', length=5.8)
for sp in axI.spines.values():
    sp.set_linewidth(1.0)
fig.text(fx(345), fy(150), r'EXAFS xk$^{3}$', rotation=90, fontsize=19, fontweight='bold', ha='center',
         va='center')
fig.text(fx(566), fy(318), r'k / Å$^{-1}$', fontsize=17, fontweight='bold', ha='center', va='center')

# ---------------- Panel B ----------------
axBL = fig.add_axes(box(133, 975, 254, 1480.5))
axBR = fig.add_axes(box(254, 975, 733, 1480.5))
axBR.patch.set_alpha(0)
for ax in (axBL, axBR):
    ax.set_ylim(0, 115)
    for sp in ax.spines.values():
        sp.set_linewidth(1.5)
axBL.set_xlim(-29.9, 37.0)
axBR.set_xlim(4.7, 270)
axBL.spines['right'].set_visible(False)
axBR.spines['left'].set_visible(False)

eb_kw = dict(fmt='none', ecolor='#808080', elinewidth=1.0, capsize=3, capthick=1.0, zorder=3)
sq_kw = dict(ls='none', marker='s', ms=10.5, mfc='white', mec='k', mew=1.2, zorder=5)
ci_kw = dict(ls='none', marker='o', ms=11.5, mfc='k', mec='k', zorder=5)
tr_kw = dict(ls='none', marker='^', ms=12.5, mfc='k', mec='k', zorder=5)

axBL.errorbar(ref_x, ref_sq, yerr=ref_sq_err, **eb_kw)
axBL.errorbar(ref_x, ref_circ, yerr=ref_circ_err, **eb_kw)
axBL.errorbar(ref_x, ref_tri, yerr=ref_tri_err, **eb_kw)
axBL.plot(ref_x, ref_sq, **sq_kw)
axBL.plot(ref_x, ref_circ, **ci_kw)
axBL.plot(ref_x, ref_tri, **tr_kw)

axBR.plot(fit_circ_t, fit_circ_v, color='k', lw=1.6, zorder=2)
axBR.plot(fit_sq_t, fit_sq_v, color='k', lw=1.6, ls=(0, (4.5, 3)), zorder=2)
axBR.plot(fit_tri_t, fit_tri_v, color='k', lw=2.8, ls=(0, (0.05, 2.6)), dash_capstyle='round', zorder=2)
axBR.errorbar(t_irr, n_sq, yerr=n_sq_err, **eb_kw)
axBR.errorbar(t_irr, n_circ, yerr=n_circ_err, **eb_kw)
axBR.errorbar(t_irr, n_tri, yerr=n_tri_err, **eb_kw)
axBR.plot(t_irr, n_sq, **sq_kw)
axBR.plot(t_irr, n_circ, **ci_kw)
axBR.plot(t_irr, n_tri, **tr_kw)

axBL.xaxis.set_major_locator(FixedLocator([0]))
axBL.xaxis.set_minor_locator(NullLocator())
axBL.yaxis.set_major_locator(MultipleLocator(20))
axBL.yaxis.set_minor_locator(MultipleLocator(5))
axBL.tick_params(which='both', direction='out', width=1.3, top=False, right=False, labelsize=23)
axBL.tick_params(which='major', length=6)
axBL.tick_params(which='minor', length=3.8)
axBL.tick_params(axis='x', pad=8)
axBL.tick_params(axis='y', pad=5)
axBR.xaxis.set_major_locator(MultipleLocator(50))
axBR.xaxis.set_minor_locator(MultipleLocator(10))
axBR.yaxis.set_major_locator(NullLocator())
axBR.yaxis.set_minor_locator(NullLocator())
axBR.tick_params(which='both', direction='out', width=1.3, top=False, right=False, left=False, labelsize=23)
axBR.tick_params(which='major', length=6, pad=8)
axBR.tick_params(which='minor', length=3.8)

sec = axBR.secondary_xaxis('top', functions=(lambda t: t * dose_per_min, lambda d: d / dose_per_min))
sec.xaxis.set_major_locator(FixedLocator(dose_ticks))
sec.xaxis.set_major_formatter(FixedFormatter(['%.1f' % d for d in dose_ticks]))
sec.xaxis.set_minor_locator(NullLocator())
sec.tick_params(direction='out', length=6, width=1.3, labelsize=23, pad=9)
sec.spines['top'].set_linewidth(1.5)

axBL.text(-13.3, 80.0, 'ox', fontsize=22, fontweight='bold', ha='center', va='center')
axBL.text(14.3, 60.3, 'red', fontsize=22, fontweight='bold', ha='center', va='center')

# axis break marks
xb = 254
for yb in (975, 1480.5):
    fig.add_artist(Line2D([fx(xb - 4), fx(xb + 4)], [fy(yb), fy(yb)], color='white', lw=3.5,
                          transform=fig.transFigure, zorder=10))
    for dx in (-4, 3):
        fig.add_artist(Line2D([fx(xb + dx - 3.5), fx(xb + dx + 3.5)], [fy(yb + 9), fy(yb - 9)], color='k',
                              lw=1.3, transform=fig.transFigure, zorder=11))

handles = [Line2D([], [], **sq_kw), Line2D([], [], **ci_kw), Line2D([], [], **tr_kw)]
leg = fig.legend(handles, legend_labels, loc='upper left', bbox_to_anchor=(fx(144), fy(986)),
                 bbox_transform=fig.transFigure, frameon=True, fancybox=False, edgecolor='k',
                 fontsize=19.5, handlelength=1.7, handletextpad=0.45, labelspacing=0.3, borderpad=0.28,
                 borderaxespad=0)
leg.get_frame().set_linewidth(2.0)

fig.text(fx(40), fy(1193), r'N$_{Fe‐Fe}$ / %', rotation=90, fontsize=28, fontweight='bold',
         ha='center', va='center')
fig.text(fx(423), fy(1562), 'X-ray irradiation period / min', fontsize=24.5, fontweight='bold',
         ha='center', va='center')
fig.text(fx(426), fy(889), 'dose / MGy', fontsize=23, fontweight='bold', ha='center', va='center')
fig.text(fx(779), fy(896), 'B', fontsize=34, fontweight='bold', ha='center', va='center')

# ---------------- Inset B ----------------
axR = fig.add_axes(box(459.3, 989, 664, 1187))
axR.plot(rfe_fit_t, rfe_fit_v, color='k', lw=1.8, zorder=2)
axR.plot(rfe_t, rfe_val, ls='none', marker='s', ms=8.5, color='k', zorder=3)
axR.set_xlim(0, 270)
axR.set_ylim(1.985, 2.0555)
axR.xaxis.set_major_locator(FixedLocator([0, 100, 200]))
axR.xaxis.set_minor_locator(MultipleLocator(50))
axR.yaxis.set_major_locator(FixedLocator(rfe_ticks))
axR.yaxis.set_major_formatter(FixedFormatter(rfe_ticklabels))
axR.yaxis.set_minor_locator(FixedLocator([2.00, 2.02, 2.04]))
axR.tick_params(which='both', direction='out', width=1.0, labelsize=18, top=False, right=False)
axR.tick_params(which='major', length=4.5, pad=3)
axR.tick_params(which='minor', length=3)
for sp in axR.spines.values():
    sp.set_linewidth(1.0)
fig.text(fx(372), fy(1070), r'R$_{Fe‐O,N}$ / Å', rotation=90, fontsize=19, fontweight='bold',
         ha='center', va='center')

fig.savefig('out.png', dpi=100)
